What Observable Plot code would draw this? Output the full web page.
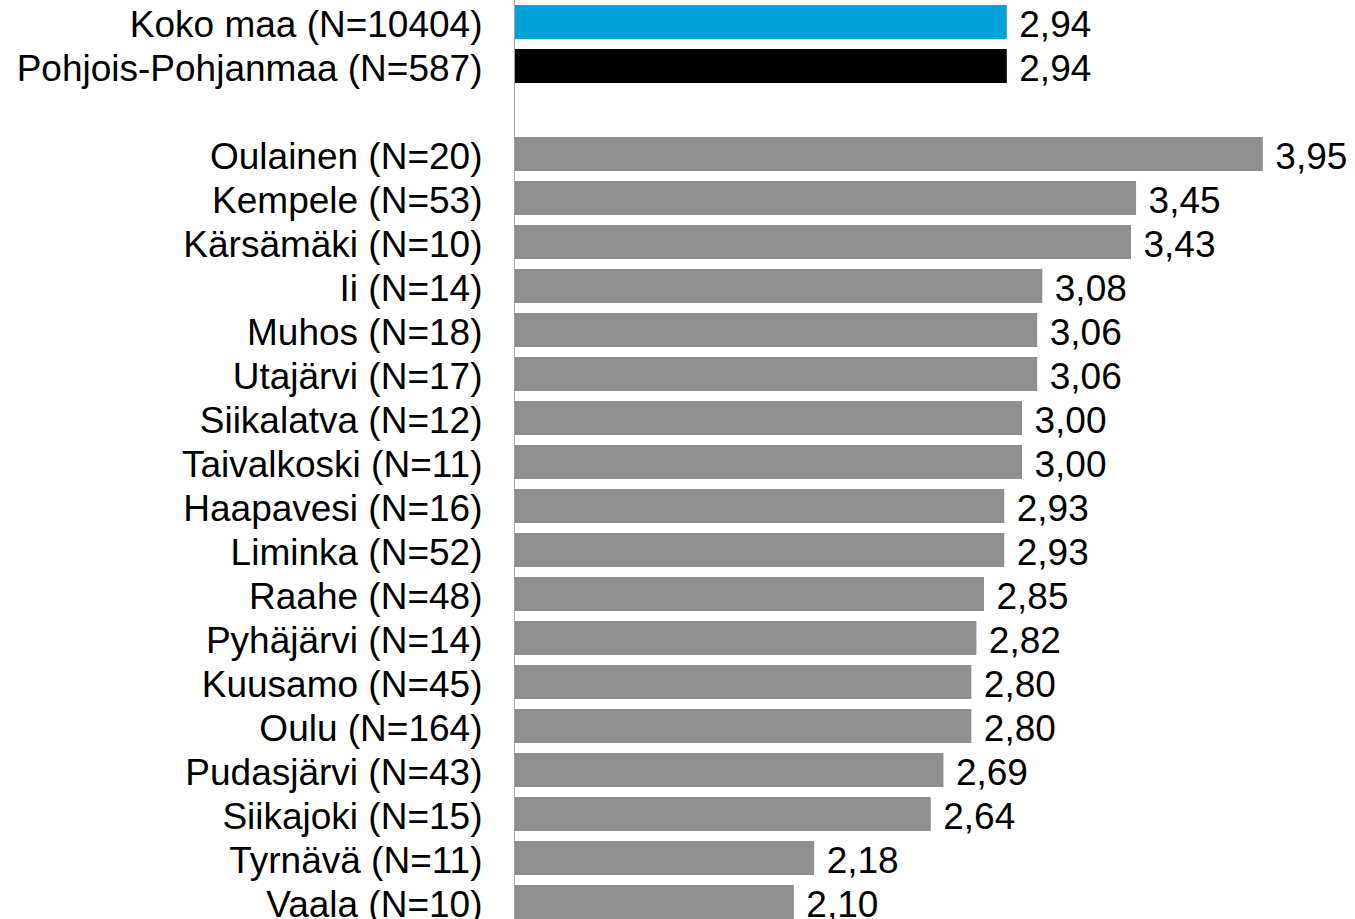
<!DOCTYPE html>
<html>
<head>
<meta charset="utf-8">
<script src="https://cdn.jsdelivr.net/npm/d3@7"></script>
<script src="https://cdn.jsdelivr.net/npm/@observablehq/plot@0.6"></script>
<style>
  html, body { margin: 0; padding: 0; background: #fff; overflow: hidden; }
  #chart svg { display: block; }
</style>
</head>
<body>
<div id="chart"></div>
<script>
// ---- data ----
const categories = [
  "Koko maa (N=10404)",
  "Pohjois-Pohjanmaa (N=587)",
  "Oulainen (N=20)",
  "Kempele (N=53)",
  "Kärsämäki (N=10)",
  "Ii (N=14)",
  "Muhos (N=18)",
  "Utajärvi (N=17)",
  "Siikalatva (N=12)",
  "Taivalkoski (N=11)",
  "Haapavesi (N=16)",
  "Liminka (N=52)",
  "Raahe (N=48)",
  "Pyhäjärvi (N=14)",
  "Kuusamo (N=45)",
  "Oulu (N=164)",
  "Pudasjärvi (N=43)",
  "Siikajoki (N=15)",
  "Tyrnävä (N=11)",
  "Vaala (N=10)"
];
const values = [2.94, 2.94, 3.95, 3.45, 3.43, 3.08, 3.06, 3.06, 3.00, 3.00, 2.93, 2.93, 2.85, 2.82, 2.80, 2.80, 2.69, 2.64, 2.18, 2.10];
const groups = ["Koko maa", "Pohjois-Pohjanmaa", ...Array(18).fill("Kunta")];

// ---- style / layout ----
const GAP = "__gap__";
const axisMin = 1;
const axisMax = 4;
const groupDomain = ["Koko maa", "Pohjois-Pohjanmaa", "Kunta"];
const groupColors = ["#00a2da", "#000000", "#8f8f8f"];

const data = categories.map((c, i) => ({label: c, value: values[i], group: groups[i]}));
const yDomain = [categories[0], categories[1], GAP, ...categories.slice(2)];
const fmt = v => d3.format(".2f")(v).replace(".", ",");

const chart = Plot.plot({
  width: 1355,
  height: 924,
  marginLeft: 515,
  marginRight: 79.5,
  marginTop: 0,
  marginBottom: 0,
  style: {fontFamily: "'Liberation Sans', Arial, sans-serif", background: "#fff"},
  x: {domain: [axisMin, axisMax], axis: null},
  y: {domain: yDomain, paddingInner: 10 / 44, paddingOuter: 5 / 44, axis: null, label: null},
  color: {domain: groupDomain, range: groupColors},
  marks: [
    Plot.barX(data, {y: "label", x1: axisMin, x2: "value", fill: "group"}),
    Plot.text(data, {
      y: "label", x: "value", text: d => fmt(d.value),
      textAnchor: "start", dx: 12, dy: 3, fontSize: 37, fill: "#000"
    }),
    Plot.axisY({
      tickSize: 0, tickPadding: 33, fontSize: 37, dy: 3, label: null,
      tickFormat: d => d === GAP ? "" : d, color: "#000"
    }),
    Plot.ruleX([axisMin], {stroke: "#a6a6a6", strokeWidth: 1, dx: -1})
  ]
});
document.getElementById("chart").appendChild(chart);
</script>
</body>
</html>
